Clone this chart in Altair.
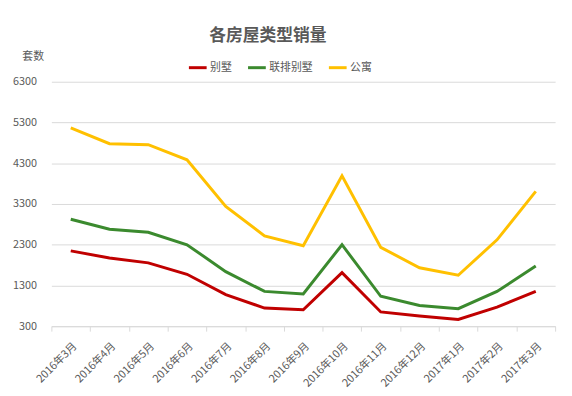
import altair as alt
import pandas as pd

months = ["2016年3月", "2016年4月", "2016年5月", "2016年6月", "2016年7月", "2016年8月",
          "2016年9月", "2016年10月", "2016年11月", "2016年12月", "2017年1月", "2017年2月", "2017年3月"]
series = ["别墅", "联排别墅", "公寓"]
villa = [2150, 1975, 1855, 1575, 1075, 745, 705, 1615, 650, 550, 465, 770, 1155]
townhouse = [2925, 2680, 2605, 2300, 1640, 1155, 1090, 2300, 1035, 810, 730, 1155, 1775]
apartment = [5170, 4780, 4755, 4385, 3240, 2515, 2275, 3990, 2235, 1735, 1550, 2420, 3610]
colors = ["#C00000", "#3B8A2E", "#FFC000"]
y_ticks = [300, 1300, 2300, 3300, 4300, 5300, 6300]

rows = []
for name, vals in zip(series, [villa, townhouse, apartment]):
    for m, v in zip(months, vals):
        rows.append({"月份": m, "类型": name, "套数": v})
df = pd.DataFrame(rows)

FONT = "Noto Sans CJK SC"
GRAY = "#595959"

chart = alt.Chart(df).mark_line(strokeWidth=3).encode(
    x=alt.X("月份:N", sort=months, bandPosition=0.5,
            scale=alt.Scale(type="band", paddingInner=0, paddingOuter=0),
            axis=alt.Axis(title=None, labelAngle=-45, labelFontSize=11, labelColor=GRAY,
                          labelFont=FONT, tickBand="extent", tickColor="#d9d9d9",
                          tickSize=5, domainColor="#d9d9d9", grid=False, labelPadding=9)),
    y=alt.Y("套数:Q", scale=alt.Scale(domain=[300, 6300], nice=False, zero=False),
            axis=alt.Axis(values=y_ticks, format="d", title="套数", titleAngle=0,
                          titleX=-19, titleY=-26,
                          titleAlign="center", titleBaseline="middle", titleFontSize=11,
                          titleFontWeight="normal", titleColor=GRAY, titleFont=FONT,
                          labelFontSize=11, labelColor=GRAY, labelFont=FONT,
                          ticks=False, domain=False, labelPadding=15,
                          gridColor="#d9d9d9", gridWidth=1)),
    color=alt.Color("类型:N", sort=series,
                    scale=alt.Scale(domain=series, range=colors),
                    legend=alt.Legend(title=None, orient="none", direction="horizontal",
                                      legendX=138, legendY=-25, symbolType="stroke",
                                      symbolStrokeWidth=3, symbolSize=324,
                                      labelFontSize=11, labelColor=GRAY, labelFont=FONT,
                                      labelOffset=2, columnPadding=10)),
).properties(
    width=511, height=248,
    title=alt.TitleParams("各房屋类型销量", anchor="middle", dx=-36, offset=5,
                          fontSize=17, font=FONT, color=GRAY, fontWeight="bold"),
    autosize=alt.AutoSizeParams(type="none"),
    padding={"left": 44, "top": 72, "right": 9, "bottom": 68},
).configure_view(stroke=None)

chart.save("out.html", embed_options={"renderer": "svg", "actions": False})
